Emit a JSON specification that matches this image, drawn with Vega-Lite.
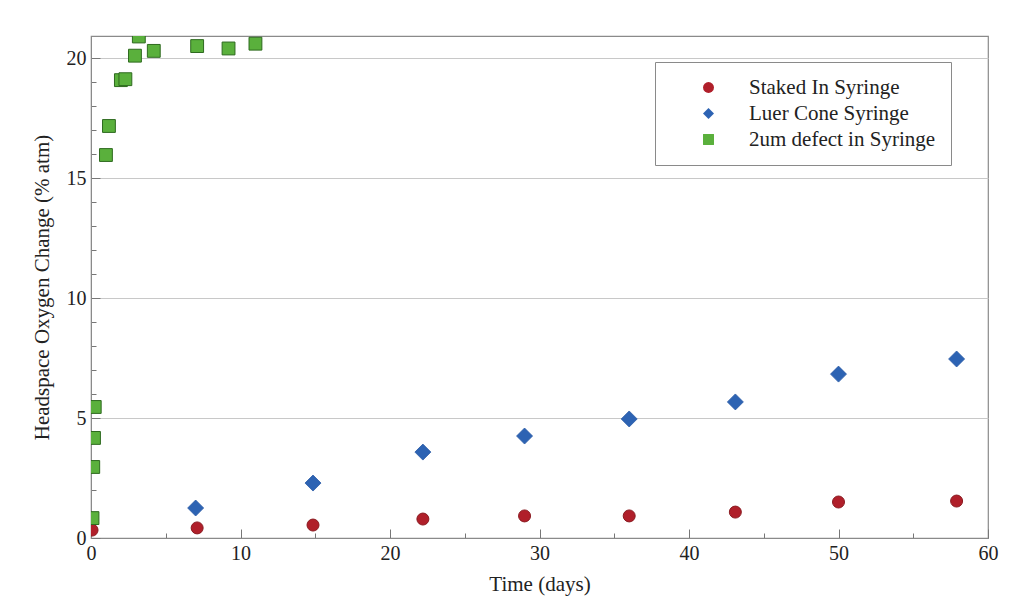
{
  "$schema": "https://vega.github.io/schema/vega-lite/v6.json",
  "width": 897,
  "height": 502,
  "autosize": "none",
  "padding": {"left": 91, "top": 36, "right": 24, "bottom": 77},
  "background": "white",
  "config": {
    "font": "Liberation Serif, DejaVu Serif, serif",
    "view": {"stroke": "#8a8a8a", "strokeWidth": 1.2}
  },
  "data": {
    "values": [
      {"series": "Staked In Syringe", "t": 0.07, "o2": 0.33},
      {"series": "Staked In Syringe", "t": 7.1, "o2": 0.42},
      {"series": "Staked In Syringe", "t": 14.85, "o2": 0.54},
      {"series": "Staked In Syringe", "t": 22.2, "o2": 0.79},
      {"series": "Staked In Syringe", "t": 29.0, "o2": 0.92},
      {"series": "Staked In Syringe", "t": 36.0, "o2": 0.92},
      {"series": "Staked In Syringe", "t": 43.1, "o2": 1.08},
      {"series": "Staked In Syringe", "t": 50.0, "o2": 1.5},
      {"series": "Staked In Syringe", "t": 57.9, "o2": 1.54},
      {"series": "Luer Cone Syringe", "t": 7.0, "o2": 1.25},
      {"series": "Luer Cone Syringe", "t": 14.85, "o2": 2.29},
      {"series": "Luer Cone Syringe", "t": 22.2, "o2": 3.58},
      {"series": "Luer Cone Syringe", "t": 29.0, "o2": 4.25},
      {"series": "Luer Cone Syringe", "t": 36.0, "o2": 4.96},
      {"series": "Luer Cone Syringe", "t": 43.1, "o2": 5.67},
      {"series": "Luer Cone Syringe", "t": 50.0, "o2": 6.83},
      {"series": "Luer Cone Syringe", "t": 57.9, "o2": 7.46},
      {"series": "2um defect in Syringe", "t": 0.1, "o2": 0.83},
      {"series": "2um defect in Syringe", "t": 0.15, "o2": 2.96},
      {"series": "2um defect in Syringe", "t": 0.2, "o2": 4.17},
      {"series": "2um defect in Syringe", "t": 0.25, "o2": 5.46},
      {"series": "2um defect in Syringe", "t": 1.0, "o2": 15.96},
      {"series": "2um defect in Syringe", "t": 1.2, "o2": 17.17},
      {"series": "2um defect in Syringe", "t": 2.0, "o2": 19.08},
      {"series": "2um defect in Syringe", "t": 2.3, "o2": 19.12},
      {"series": "2um defect in Syringe", "t": 2.94, "o2": 20.1},
      {"series": "2um defect in Syringe", "t": 3.2, "o2": 20.9},
      {"series": "2um defect in Syringe", "t": 4.2, "o2": 20.3},
      {"series": "2um defect in Syringe", "t": 7.1, "o2": 20.5},
      {"series": "2um defect in Syringe", "t": 9.2, "o2": 20.4},
      {"series": "2um defect in Syringe", "t": 11.0, "o2": 20.6}
    ]
  },
  "encoding": {
    "x": {
      "field": "t",
      "type": "quantitative",
      "scale": {"domain": [0, 60], "nice": false, "zero": false},
      "axis": {
        "title": "Time (days)",
        "titleFont": "Liberation Serif, DejaVu Serif, serif",
        "titleFontSize": 21,
        "titleFontWeight": "normal",
        "titleColor": "#222",
        "titlePadding": 10,
        "values": [0, 5, 10, 15, 20, 25, 30, 35, 40, 45, 50, 55, 60],
        "labelExpr": "datum.value % 10 === 0 ? datum.label : ''",
        "labelFont": "Liberation Serif, DejaVu Serif, serif",
        "labelFontSize": 20,
        "labelColor": "#222",
        "labelPadding": 14,
        "labelFlush": false,
        "tickSize": {"condition": {"test": "datum.value % 10 === 0", "value": -9}, "value": -5},
        "tickColor": "#777",
        "domainColor": "#8a8a8a",
        "grid": false
      }
    },
    "y": {
      "field": "o2",
      "type": "quantitative",
      "scale": {"domain": [0, 20.92], "nice": false, "zero": false},
      "axis": {
        "title": "Headspace Oxygen Change (% atm)",
        "titleFont": "Liberation Serif, DejaVu Serif, serif",
        "titleFontSize": 21,
        "titleFontWeight": "normal",
        "titleColor": "#222",
        "titlePadding": 14,
        "values": [0, 1, 2, 3, 4, 5, 6, 7, 8, 9, 10, 11, 12, 13, 14, 15, 16, 17, 18, 19, 20],
        "labelExpr": "datum.value % 5 === 0 ? datum.label : ''",
        "labelFont": "Liberation Serif, DejaVu Serif, serif",
        "labelFontSize": 20,
        "labelColor": "#222",
        "labelPadding": 14,
        "labelFlush": false,
        "tickSize": {"condition": {"test": "datum.value % 5 === 0", "value": -9}, "value": -5},
        "tickColor": "#777",
        "domainColor": "#8a8a8a",
        "grid": true,
        "gridColor": "#c8c8c8",
        "gridOpacity": {"condition": {"test": "datum.value % 5 === 0 && datum.value > 0", "value": 1}, "value": 0}
      }
    },
    "color": {
      "field": "series",
      "type": "nominal",
      "scale": {
        "domain": ["Staked In Syringe", "Luer Cone Syringe", "2um defect in Syringe"],
        "range": ["#b01f2a", "#2d63b3", "#5ab03c"]
      },
      "legend": {
        "title": null,
        "orient": "none",
        "legendX": 564,
        "legendY": 26,
        "padding": 15,
        "strokeColor": "#8a8a8a",
        "fillColor": "white",
        "labelFont": "Liberation Serif, DejaVu Serif, serif",
        "labelFontSize": 21,
        "labelColor": "#222",
        "labelOffset": 30,
        "symbolOffset": 28,
        "rowPadding": 4,
        "symbolSize": 120,
        "symbolStrokeWidth": 0,
        "labelLimit": 300
      }
    },
    "shape": {
      "field": "series",
      "type": "nominal",
      "scale": {
        "domain": ["Staked In Syringe", "Luer Cone Syringe", "2um defect in Syringe"],
        "range": ["circle", "diamond", "square"]
      }
    }
  },
  "layer": [
    {
      "transform": [{"filter": "datum.series === 'Staked In Syringe'"}],
      "mark": {"type": "point", "filled": true, "opacity": 1, "size": 144, "stroke": "#8a1a20", "strokeWidth": 1, "clip": true}
    },
    {
      "transform": [{"filter": "datum.series === 'Luer Cone Syringe'"}],
      "mark": {"type": "point", "filled": true, "opacity": 1, "size": 256, "stroke": "#2a5ba6", "strokeWidth": 0.8, "clip": true}
    },
    {
      "transform": [{"filter": "datum.series === '2um defect in Syringe'"}],
      "mark": {"type": "point", "filled": true, "opacity": 1, "size": 165, "stroke": "#2e6a1f", "strokeWidth": 1, "clip": true}
    }
  ]
}
